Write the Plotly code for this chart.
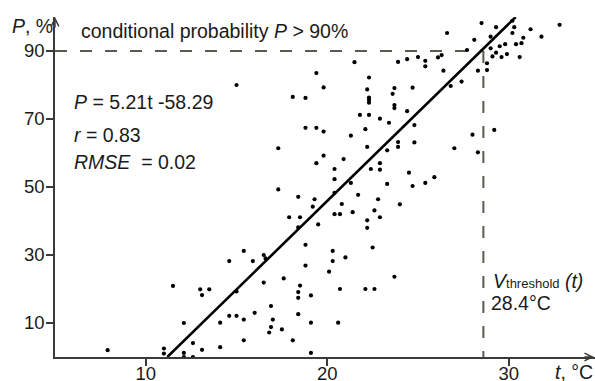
import plotly.graph_objects as go

# ---- data ----
T = [7.9, 11.0, 11.0, 11.5, 14.6, 12.1, 12.6, 12.1, 12.1, 12.6,
     13.0, 13.1, 13.5, 15.0, 16.5, 14.1, 14.6, 15.0, 15.4, 15.4,
     14.1, 13.1, 16.0, 16.9, 17.0, 16.9, 16.8, 17.5, 18.1, 18.4,
     18.4, 18.4, 18.5, 19.1, 19.1, 19.1, 20.7, 20.6, 22.1, 22.6,
     17.3, 17.3, 19.4, 19.8, 20.9, 22.2, 23.3, 20.4, 20.4, 22.4,
     22.9, 22.9, 21.3, 23.3, 20.4, 21.7, 18.4, 19.3, 19.2, 20.8,
     22.8, 22.6, 20.4, 20.7, 21.4, 17.9, 18.5, 22.9, 22.2, 22.2,
     19.5, 18.4, 15.4, 16.5, 16.6, 15.9, 18.8, 20.3, 20.3, 21.0,
     22.5, 18.8, 20.1, 17.6,
     21.5, 19.4, 22.3, 19.8, 22.2, 18.1, 18.8, 22.3, 22.3, 22.3,
     21.8, 22.3, 22.9, 23.4, 18.8, 19.4, 19.8, 21.3, 22.1,
     24.8, 23.9, 23.9, 24.8, 24.5, 24.7, 25.4, 25.9, 24.0, 27.0,
     28.0, 28.3, 29.2,
     23.9, 24.4, 25.0, 25.4, 25.4, 26.1, 26.3, 26.4, 23.7, 23.6,
     24.7, 23.7, 23.7, 24.4,
     29.5, 28.5, 29.3, 30.2, 30.3, 30.2, 26.6, 31.2, 31.8, 32.8,
     34.3, 28.1, 29.0, 30.8, 30.7, 30.4, 29.8, 29.5, 29.0, 29.3,
     29.1, 29.6, 29.9, 30.6, 28.8, 28.8, 28.3, 27.7, 27.4, 26.8,
     23.7, 15.0]

P = [2.0, 2.5, 1.0, 20.9, 28.2, 10.0, 4.1, 1.2, 0.0, 0.0,
     19.9, 18.2, 19.9, 19.3, 21.9, 10.1, 12.1, 12.1, 11.0, 4.9,
     2.9, 2.1, 13.0, 15.0, 11.0, 8.8, 7.2, 8.1, 4.9, 12.6,
     17.4, 19.1, 21.0, 18.1, 10.1, 1.2, 20.0, 10.1, 20.0, 20.0,
     61.4, 49.3, 57.0, 59.2, 58.2, 61.8, 60.8, 55.3, 52.3, 55.3,
     57.0, 55.1, 51.2, 50.9, 48.3, 47.7, 47.1, 46.4, 44.2, 45.0,
     46.4, 43.1, 42.0, 42.0, 42.6, 41.1, 41.1, 41.1, 40.2, 38.0,
     39.0, 38.1, 31.2, 30.0, 29.0, 28.2, 33.0, 31.2, 28.2, 29.3,
     32.2, 26.9, 25.1, 23.1,
     86.7, 83.5, 82.2, 79.3, 78.7, 76.5, 76.2, 76.3, 75.6, 74.8,
     71.2, 71.2, 70.1, 68.9, 67.4, 67.4, 66.3, 65.1, 67.0,
     68.2, 63.2, 61.8, 63.1, 54.2, 50.3, 51.2, 52.9, 44.9, 61.4,
     65.4, 60.2, 66.8,
     86.8, 87.6, 88.2, 87.1, 85.5, 88.1, 88.8, 84.2, 79.1, 77.4,
     79.2, 74.1, 73.2, 72.3,
     100.3, 98.2, 97.0, 98.9, 97.0, 95.3, 95.3, 96.4, 94.2, 97.7,
     100.3, 93.3, 94.2, 93.9, 92.3, 92.0, 92.0, 91.4, 90.8, 89.5,
     88.4, 88.2, 89.1, 88.2, 86.4, 84.4, 84.2, 90.3, 81.0, 79.7,
     23.6, 80.0]

SLOPE = 5.21
INTERCEPT = -58.29
R_VALUE = 0.83
RMSE = 0.02
P_LEVEL = 90           # conditional probability level, %
T_LINE = 28.6          # position of the drawn vertical dashed line
T_THRESHOLD_LABEL = 28.4
X_TICKS = [10, 20, 30]
Y_TICKS = [10, 30, 50, 70, 90]
X_RANGE = [5, 34.75]
Y_RANGE = [0, 100]

FONT = "Liberation Sans, Arial, sans-serif"
TXT = "#1a1a1a"
AXC = "#3a3a3a"
DASHC = "#5b5a50"
TICK_SIZE = 18.5
ANN_SIZE = 19.5

# regression line from P=0 to P=100
t0 = -INTERCEPT / SLOPE
t1 = (100 - INTERCEPT) / SLOPE

fig = go.Figure()
# threshold dashed lines
fig.add_trace(go.Scatter(x=[X_RANGE[0], T_LINE], y=[P_LEVEL, P_LEVEL], mode="lines",
                         line=dict(color=DASHC, width=2, dash="12px,13px"),
                         hoverinfo="skip", cliponaxis=False))
fig.add_trace(go.Scatter(x=[T_LINE, T_LINE], y=[P_LEVEL, 0], mode="lines",
                         line=dict(color=DASHC, width=2, dash="12px,13px"),
                         hoverinfo="skip", cliponaxis=False))
fig.add_trace(go.Scatter(x=T, y=P, mode="markers",
                         marker=dict(color="black", size=4.2),
                         cliponaxis=False))
fig.add_trace(go.Scatter(x=[t0, t1], y=[SLOPE * t0 + INTERCEPT, SLOPE * t1 + INTERCEPT],
                         mode="lines", line=dict(color="black", width=2.6),
                         cliponaxis=False))

L, R, TOP, B = 55, 0, 17, 24
W, H = 595, 381
PW, PH = W - L - R, H - TOP - B


def px(x):
    return (x - L) / PW


def py(y):
    return (H - B - y) / PH


def ann(text, x, y, xa="left", size=ANN_SIZE):
    return dict(text=text, x=px(x), y=py(y), xref="paper", yref="paper",
                xanchor=xa, yanchor="middle", showarrow=False,
                font=dict(family=FONT, size=size, color=TXT))


annotations = [
    ann("<i>P</i>, %", 32, 26, xa="center"),
    ann(f"conditional probability <i>P</i> > {P_LEVEL}%", 79, 31.5),
    ann(f"<i>P</i> = {SLOPE}t {INTERCEPT}", 72, 101.7),
    ann(f"<i>r</i> = {R_VALUE}", 72, 134.7),
    ann(f"<i>RMSE</i>&nbsp; = {RMSE}", 72, 162),
    ann("<i>V</i><span style='font-size:13px'>threshold</span> <i>(t)</i>", 491, 281),
    ann(f"{T_THRESHOLD_LABEL}°C", 489, 302.5),
    ann("<i>t</i>, °C", 574, 371.7, xa="center"),
    # axis arrowheads
    dict(x=0, y=1, xref="paper", yref="paper", ax=0, ay=12, showarrow=True,
         arrowhead=5, arrowsize=1.1, arrowwidth=1.4, arrowcolor=AXC, text=""),
    dict(x=1, y=0, xref="paper", yref="paper", ax=-12, ay=0, showarrow=True,
         arrowhead=5, arrowsize=1.1, arrowwidth=1.4, arrowcolor=AXC, text=""),
]

fig.update_layout(
    width=W, height=H,
    margin=dict(l=L, r=R, t=TOP, b=B, pad=0, autoexpand=False),
    paper_bgcolor="white", plot_bgcolor="white",
    showlegend=False,
    font=dict(family=FONT, size=TICK_SIZE, color=TXT),
    annotations=annotations,
    xaxis=dict(range=X_RANGE, tickvals=X_TICKS, ticks="outside", ticklen=7,
               tickwidth=1.5, tickcolor=AXC, showline=True, linecolor=AXC,
               linewidth=1.5, showgrid=False, zeroline=False,
               ticklabelstandoff=-8,
               tickfont=dict(family=FONT, size=TICK_SIZE, color=TXT)),
    yaxis=dict(range=Y_RANGE, tickvals=Y_TICKS, ticks="outside", ticklen=7,
               tickwidth=1.5, tickcolor=AXC, showline=True, linecolor=AXC,
               linewidth=1.5, showgrid=False, zeroline=False,
               ticklabelstandoff=-2,
               tickfont=dict(family=FONT, size=TICK_SIZE, color=TXT)),
)

fig.write_html("out.html")
